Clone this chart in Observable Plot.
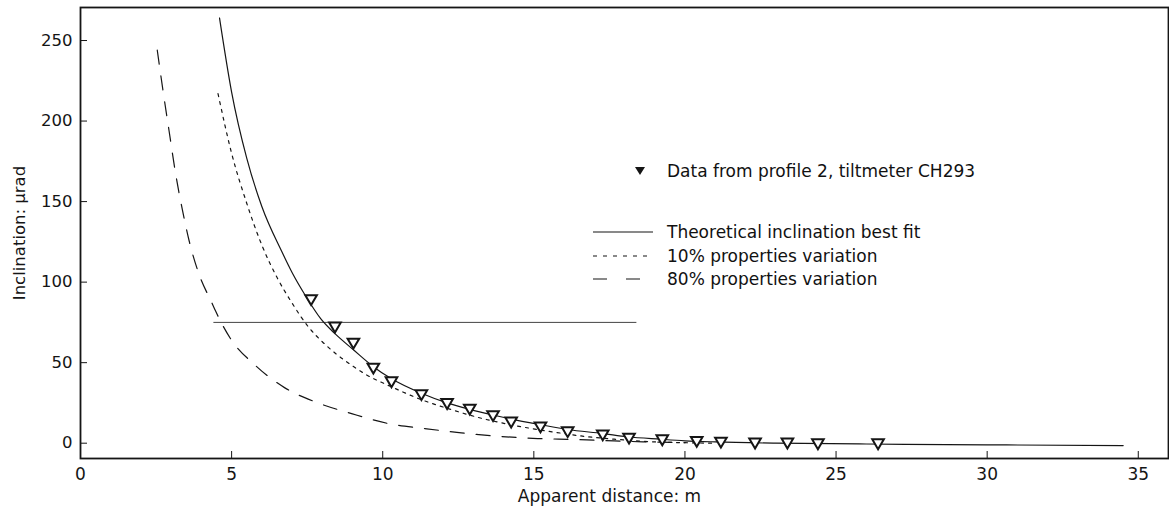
<!DOCTYPE html>
<html>
<head>
<meta charset="utf-8">
<script src="https://cdn.jsdelivr.net/npm/d3@7"></script>
<script src="https://cdn.jsdelivr.net/npm/@observablehq/plot@0.6"></script>
<style>
  html, body { margin: 0; padding: 0; background: #fff; }
  #wrap { position: relative; width: 1169px; height: 514px; font-family: "DejaVu Sans", sans-serif; color: #111; }
  #legend { position: absolute; left: 0; top: 0; font-size: 17px; }
  .row { position: absolute; display: flex; align-items: center; white-space: nowrap; height: 22px; }
  .row svg { display: block; }
</style>
</head>
<body>
<div id="wrap"></div>
<script>
// ---- data ----
const dataX = [7.63, 8.42, 9.03, 9.69, 10.29, 11.28, 12.13, 12.88, 13.65, 14.25, 15.22, 16.12, 17.28, 18.15, 19.25, 20.39, 21.19, 22.32, 23.39, 24.40, 26.39];
const dataY = [89, 72, 62, 46.5, 38, 30, 24.5, 21, 17, 13, 10, 7, 5, 3, 2, 1, 0.5, 0, 0, -0.5, -0.5];

const fitX = [4.6, 5.0, 5.5, 6.0, 6.66, 7.0, 7.43, 7.96, 8.42, 9.03, 9.69, 10.29, 11.28, 12.13, 12.88, 13.65, 14.25, 15.22, 16.12, 17.28, 18.1, 19.18, 20.0, 21.0, 23.0, 26.0, 30.0, 34.5];
const fitY = [264, 218, 177, 147, 119, 106, 92, 77, 68, 58, 47.5, 40, 31, 25, 21, 17.5, 15, 11.5, 8.5, 6, 4, 2.5, 1.5, 0.8, 0, -0.5, -1, -1.5];

const var10X = [4.55, 5.0, 5.5, 6.0, 6.5, 7.0, 7.55, 8.0, 8.42, 9.0, 9.41, 10.29, 11.28, 12.16, 13.26, 14.36, 15.46, 16.56, 17.66, 18.76, 20.0, 21.0];
const var10Y = [217, 180, 149, 123, 103, 87, 72, 63, 56, 48, 43, 35, 27, 21.5, 15.5, 11, 7.5, 4.5, 2.5, 1, 0.3, 0];

const var80X = [2.54, 2.76, 2.93, 3.15, 3.37, 3.59, 3.92, 4.35, 4.47, 4.96, 5.78, 6.75, 7.76, 8.97, 10.18, 11.39, 12.6, 13.81, 15.13, 16.34, 17.66, 18.76, 20.0];
const var80Y = [244, 215, 194, 167, 145, 126, 105, 87, 82, 65, 48.4, 34.5, 25.7, 18.4, 12.2, 9.1, 6.4, 4.3, 2.9, 2.3, 1.4, 0.8, 0.3];

const refLineX = [4.41, 18.38];
const refLineY = [75, 75];

const xTicks = [0, 5, 10, 15, 20, 25, 30, 35];
const yTicks = [0, 50, 100, 150, 200, 250];

const xLabel = "Apparent distance: m";
const yLabel = "Inclination: µrad";
const legendData = "Data from profile 2, tiltmeter CH293";
const legendSeries = ["Theoretical inclination best fit", "10% properties variation", "80% properties variation"];

// ---- build tables ----
const pts = dataX.map((x, i) => ({x, y: dataY[i]}));
const fit = fitX.map((x, i) => ({x, y: fitY[i]}));
const v10 = var10X.map((x, i) => ({x, y: var10Y[i]}));
const v80 = var80X.map((x, i) => ({x, y: var80Y[i]}));
const ref = refLineX.map((x, i) => ({x, y: refLineY[i]}));

const triDown = {
  draw(ctx, size) {
    const r = Math.sqrt(size / Math.PI);
    ctx.moveTo(-r, -0.8 * r);
    ctx.lineTo(r, -0.8 * r);
    ctx.lineTo(0, 0.9 * r);
    ctx.closePath();
  }
};

const ink = "#151515";
const TICK = 7;

const chart = Plot.plot({
  width: 1169,
  height: 514,
  marginLeft: 80,
  marginRight: 1,
  marginTop: 7,
  marginBottom: 56,
  style: {fontFamily: "DejaVu Sans", fontSize: "17px", color: ink, background: "#fff", overflow: "visible"},
  x: {domain: [0, 36]},
  y: {domain: [-9.5, 270.5]},
  marks: [
    Plot.line(ref, {x: "x", y: "y", stroke: "#444", strokeWidth: 1}),
    Plot.line(v80, {x: "x", y: "y", curve: "monotone-x", stroke: ink, strokeWidth: 1.2, strokeDasharray: "14,12"}),
    Plot.line(v10, {x: "x", y: "y", curve: "monotone-x", stroke: ink, strokeWidth: 1.2, strokeDasharray: "3,5"}),
    Plot.line(fit, {x: "x", y: "y", curve: "monotone-x", stroke: ink, strokeWidth: 1.2}),
    Plot.dot(pts, {x: "x", y: "y", symbol: triDown, r: 5.8, stroke: ink, strokeWidth: 2, fill: "#fff"}),
    // inward tick marks (shifted into the frame)
    Plot.axisX({ticks: xTicks, tickSize: TICK, dy: -TICK, tickFormat: () => "", label: null}),
    Plot.axisY({ticks: yTicks, tickSize: TICK, dx: TICK, tickFormat: () => "", label: null}),
    // tick labels and axis titles
    Plot.axisX({ticks: xTicks, tickSize: 0, tickPadding: 9, tickFormat: d => String(d), label: null}),
    Plot.axisY({ticks: yTicks, tickSize: 0, tickPadding: 8, tickFormat: d => String(d), label: yLabel, labelAnchor: "center", labelOffset: 67, labelArrow: "none", fontSize: 16.5}),
    Plot.text([xLabel], {text: d => d, frameAnchor: "bottom", lineAnchor: "top", dy: 31, dx: -15, fill: ink}),
    Plot.frame({stroke: ink, strokeWidth: 1.8})
  ]
});

const wrap = document.getElementById("wrap");
wrap.appendChild(chart);

// ---- legend overlay ----
const legend = document.createElement("div");
legend.id = "legend";
const rows = [
  {top: 160, kind: "tri", text: legendData},
  {top: 221, kind: "solid", text: legendSeries[0]},
  {top: 245, kind: "dot", text: legendSeries[1]},
  {top: 268, kind: "dash", text: legendSeries[2]}
];
for (const r of rows) {
  const div = document.createElement("div");
  div.className = "row";
  div.style.top = r.top + "px";
  let sample;
  if (r.kind === "tri") {
    div.style.left = "631px";
    sample = `<svg width="36" height="22"><path d="M4,7 L14,7 L9,15 Z" fill="${ink}"/></svg>`;
  } else {
    div.style.left = "593px";
    const dash = r.kind === "solid" ? "" : (r.kind === "dot" ? 'stroke-dasharray="4,6"' : 'stroke-dasharray="14,19"');
    sample = `<svg width="74" height="22"><line x1="0" y1="11" x2="60" y2="11" stroke="${ink}" stroke-width="1.2" ${dash}/></svg>`;
  }
  div.innerHTML = sample + `<span>${r.text}</span>`;
  legend.appendChild(div);
}
wrap.appendChild(legend);
</script>
</body>
</html>
